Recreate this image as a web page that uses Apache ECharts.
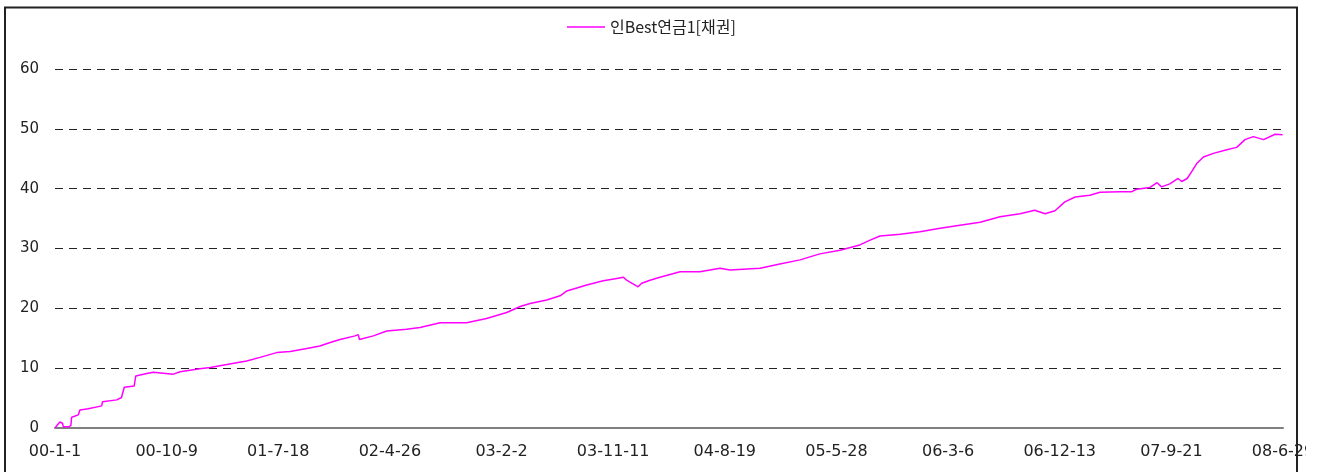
<!DOCTYPE html>
<html>
<head>
<meta charset="utf-8">
<script src="https://cdn.jsdelivr.net/npm/echarts@6/dist/echarts.min.js"></script>
<style>
html,body{margin:0;padding:0;background:#fff;}
#c{width:1306px;height:472px;}
</style>
</head>
<body>
<div id="c"></div>
<script>
// ---- data ----
const seriesName = '인Best연금1[채권]';
const startDate = '2000-01-01';
const endDate = '2008-06-29';
const xTickLabels = ['00-1-1','00-10-9','01-7-18','02-4-26','03-2-2','03-11-11','04-8-19','05-5-28','06-3-6','06-12-13','07-9-21','08-6-29'];
const yTicks = [0,10,20,30,40,50,60];
const sampleDates = [
 '2000-01-01','2000-01-13','2000-01-20','2000-01-22','2000-02-04','2000-02-10','2000-02-12','2000-02-29','2000-03-04','2000-03-25',
 '2000-04-28','2000-04-30','2000-06-05','2000-06-17','2000-06-24','2000-07-19','2000-07-23','2000-08-20','2000-09-05','2000-10-26',
 '2000-11-12','2001-01-01','2001-01-27','2001-03-10','2001-04-29','2001-06-02','2001-07-14','2001-08-17','2001-09-28','2001-10-31',
 '2001-11-26','2001-12-21','2002-01-28','2002-02-05','2002-02-08','2002-03-15','2002-04-18','2002-06-07','2002-07-11','2002-08-31',
 '2002-11-06','2002-12-26','2003-02-15','2003-03-21','2003-04-15','2003-05-27','2003-06-30','2003-07-17','2003-09-05','2003-10-17',
 '2003-11-20','2003-12-07','2003-12-15','2004-01-13','2004-01-22','2004-02-12','2004-03-08','2004-04-28','2004-06-17','2004-08-07',
 '2004-09-01','2004-11-16','2005-01-05','2005-02-25','2005-04-16','2005-06-06','2005-07-26','2005-08-21','2005-09-15','2005-11-05',
 '2005-12-25','2006-02-14','2006-04-05','2006-05-26','2006-07-15','2006-09-04','2006-10-11','2006-11-06','2006-12-01','2006-12-26',
 '2007-01-21','2007-02-27','2007-03-25','2007-05-14','2007-06-13','2007-06-25','2007-07-29','2007-08-16','2007-08-27','2007-09-17',
 '2007-10-08','2007-10-17','2007-10-31','2007-11-11','2007-11-24','2007-12-11','2008-01-05','2008-02-08','2008-03-04','2008-03-25',
 '2008-04-15','2008-05-11','2008-06-09','2008-06-28'
];
const sampleValues = [
 0.0,1.0,0.8,0.2,0.2,0.4,1.8,2.2,3.0,3.2,
 3.7,4.4,4.7,5.1,6.8,7.0,8.7,9.1,9.3,9.0,
 9.4,9.9,10.1,10.6,11.2,11.8,12.6,12.8,13.3,13.7,
 14.3,14.8,15.4,15.6,14.8,15.4,16.2,16.5,16.8,17.6,
 17.6,18.3,19.3,20.3,20.8,21.4,22.1,22.9,23.9,24.6,
 25.0,25.2,24.7,23.6,24.2,24.7,25.2,26.1,26.1,26.7,
 26.4,26.7,27.4,28.1,29.1,29.7,30.6,31.4,32.1,32.4,
 32.8,33.4,33.9,34.4,35.3,35.8,36.4,35.8,36.3,37.8,
 38.6,38.9,39.4,39.5,39.5,39.9,40.2,41.0,40.3,40.8,
 41.7,41.2,41.7,42.8,44.2,45.3,45.9,46.5,46.9,48.2,
 48.7,48.2,49.1,49.0
];
// ---------------------------------------

const DAY = 86400000;
function toUTC(s){ const p = s.split('-').map(Number); return Date.UTC(p[0], p[1]-1, p[2]); }
const t0 = toUTC(startDate);
const totalDays = Math.round((toUTC(endDate) - t0) / DAY);
const tickStep = totalDays / (xTickLabels.length - 1);
const lineData = sampleDates.map((d, i) => [Math.round((toUTC(d) - t0) / DAY), sampleValues[i]]);

const chart = echarts.init(document.getElementById('c'), null, {renderer: 'canvas'});
chart.setOption({
  animation: false,
  backgroundColor: '#ffffff',
  textStyle: {fontFamily: 'DejaVu Sans'},
  graphic: [{
    type: 'rect', z: 100, silent: true,
    shape: {x: 5, y: 7.5, width: 1292, height: 480},
    style: {fill: 'none', stroke: '#222', lineWidth: 2}
  }],
  legend: {
    top: 14, left: 562,
    icon: 'rect',
    itemWidth: 38, itemHeight: 1.5, itemGap: 10,
    textStyle: {fontFamily: 'Noto Sans CJK KR', fontSize: 16, color: '#222'},
    data: [seriesName]
  },
  grid: {left: 55, right: 23, top: 69, bottom: 44, containLabel: false, outerBoundsMode: 'none'},
  xAxis: {
    type: 'value', min: 0, max: totalDays, interval: tickStep,
    axisLine: {show: true, lineStyle: {color: '#808080', width: 2}},
    axisTick: {show: false},
    splitLine: {show: false},
    axisLabel: {
      margin: 16, fontSize: 16, color: '#222', fontFamily: 'DejaVu Sans',
      showMinLabel: true, showMaxLabel: true,
      formatter: v => xTickLabels[Math.round(v / tickStep)] || ''
    }
  },
  yAxis: {
    type: 'value', min: yTicks[0], max: yTicks[yTicks.length-1], interval: yTicks[1]-yTicks[0],
    axisLine: {show: false},
    axisTick: {show: false},
    axisLabel: {margin: 16, fontSize: 15, color: '#222', fontFamily: 'DejaVu Sans'},
    splitLine: {show: true, lineStyle: {color: '#222', width: 1, type: [8, 6]}}
  },
  series: [{
    name: seriesName,
    type: 'line',
    data: lineData,
    symbol: 'none',
    showSymbol: false,
    lineStyle: {color: '#ff00ff', width: 1.5},
    itemStyle: {color: '#ff00ff'},
    z: 3
  }]
});
</script>
</body>
</html>
